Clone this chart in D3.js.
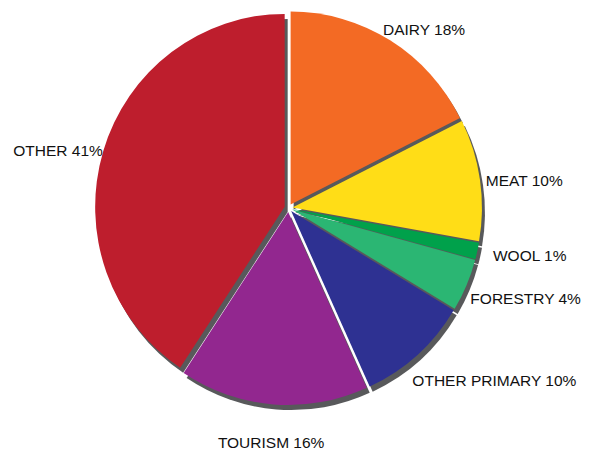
<!DOCTYPE html>
<html>
<head>
<meta charset="utf-8">
<script src="https://cdn.jsdelivr.net/npm/d3@7"></script>
<style>
  body { margin: 0; background: #fff; }
  text { font-family: "Liberation Sans", Arial, sans-serif; font-size: 15.5px; fill: #111; }
</style>
</head>
<body>
<div id="chart"></div>
<script>
// dane wykresu
var categories = ["DAIRY", "MEAT", "WOOL", "FORESTRY", "OTHER PRIMARY", "TOURISM", "OTHER"];
var shares = [17.6, 10.2, 1.4, 4.4, 9.6, 16.1, 40.7];
var labels = ["DAIRY 18%", "MEAT 10%", "WOOL 1%", "FORESTRY 4%", "OTHER PRIMARY 10%", "TOURISM 16%", "OTHER 41%"];
var colors = ["#f36a24", "#ffdd17", "#00a14b", "#2bb673", "#2e3192", "#92278f", "#be1e2d"];

// przesunięcia etykiet względem łuku (tylko układ)
var labelOffsets = [[-15, 4, "start"], [-9, 8, "start"], [1, 8, "start"], [-10, 14, "start"],
  [-15, 22, "start"], [-1, 32, "middle"], [14, 8, "end"]];

var width = 589, height = 450;
var cx = 288.5, cy = 208, r = 189.5, ry = 1.018;
var explode = 4;

var svg = d3.select("#chart").append("svg")
  .attr("width", width)
  .attr("height", height);

var data = categories.map(function (c, i) { return { name: c, value: shares[i], i: i }; });

var pie = d3.pie().sort(null).value(function (d) { return d.value; });
var arcs = pie(data);

var arc = d3.arc().innerRadius(0).outerRadius(r);
var labelArc = d3.arc().innerRadius(r + 19).outerRadius(r + 19);

function shift(d) {
  var a = (d.startAngle + d.endAngle) / 2;
  return [Math.sin(a) * explode, -Math.cos(a) * explode];
}

var g = svg.append("g")
  .attr("transform", "translate(" + cx + "," + cy + ") scale(1," + ry + ")");

// cień
g.selectAll(".shadow")
  .data(arcs)
  .enter()
  .append("path")
  .attr("class", "shadow")
  .attr("d", arc)
  .attr("transform", function (d) { var s = shift(d); return "translate(" + (s[0] + 3) + "," + (s[1] + 5) + ")"; })
  .style("fill", "#58595b");

// kawałki
g.selectAll(".slice")
  .data(arcs)
  .enter()
  .append("path")
  .attr("class", "slice")
  .attr("d", arc)
  .attr("transform", function (d) { var s = shift(d); return "translate(" + s[0] + "," + s[1] + ")"; })
  .style("fill", function (d) { return colors[d.data.i]; });

// etykiety
svg.selectAll(".label")
  .data(arcs)
  .enter()
  .append("text")
  .attr("class", "label")
  .attr("x", function (d) { return cx + labelArc.centroid(d)[0] + labelOffsets[d.data.i][0]; })
  .attr("y", function (d) { return cy + labelArc.centroid(d)[1] + labelOffsets[d.data.i][1]; })
  .attr("text-anchor", function (d) { return labelOffsets[d.data.i][2]; })
  .text(function (d) { return labels[d.data.i]; });
</script>
</body>
</html>
